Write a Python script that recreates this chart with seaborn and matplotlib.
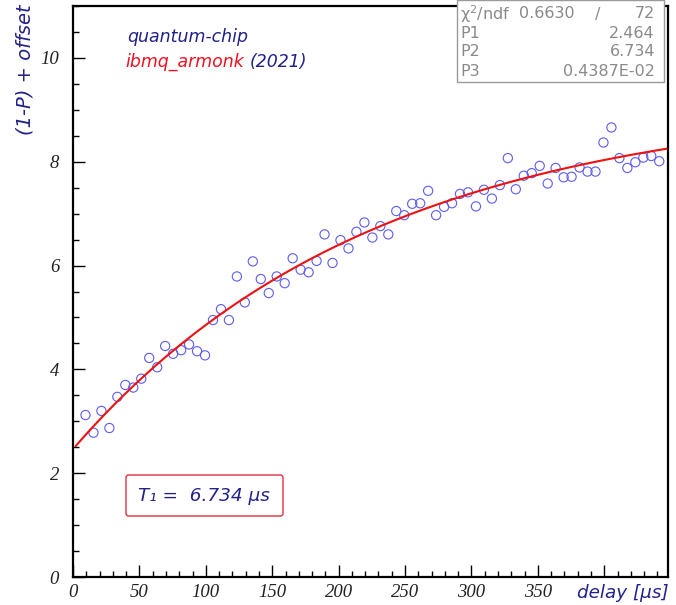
import numpy as np
import pandas as pd
import matplotlib
matplotlib.use("Agg")
import matplotlib.pyplot as plt
from matplotlib.ticker import MultipleLocator
from matplotlib.patches import FancyBboxPatch
import seaborn as sns

# ---- data ----
delay = [9.4, 15.4, 21.4, 27.4, 33.4, 39.4, 45.4, 51.4, 57.4, 63.4,
         69.4, 75.4, 81.4, 87.4, 93.4, 99.4, 105.4, 111.4, 117.4, 123.4,
         129.4, 135.4, 141.4, 147.4, 153.4, 159.4, 165.4, 171.4, 177.4, 183.4,
         189.4, 195.4, 201.4, 207.4, 213.4, 219.4, 225.4, 231.4, 237.4, 243.4,
         249.4, 255.4, 261.4, 267.4, 273.4, 279.4, 285.4, 291.4, 297.4, 303.4,
         309.4, 315.4, 321.4, 327.4, 333.4, 339.4, 345.4, 351.4, 357.4, 363.4,
         369.4, 375.4, 381.4, 387.4, 393.4, 399.4, 405.4, 411.4, 417.4, 423.4,
         429.4, 435.4, 441.4]
signal = [3.12, 2.78, 3.20, 2.87, 3.47, 3.70, 3.65, 3.82, 4.22, 4.04,
          4.45, 4.30, 4.37, 4.48, 4.35, 4.27, 4.95, 5.16, 4.95, 5.79,
          5.29, 6.08, 5.74, 5.47, 5.79, 5.66, 6.14, 5.92, 5.87, 6.09,
          6.60, 6.05, 6.49, 6.33, 6.65, 6.83, 6.54, 6.76, 6.60, 7.05,
          6.97, 7.19, 7.20, 7.44, 6.97, 7.13, 7.20, 7.38, 7.41, 7.14,
          7.46, 7.29, 7.55, 8.07, 7.47, 7.73, 7.78, 7.92, 7.58, 7.88,
          7.70, 7.71, 7.89, 7.81, 7.81, 8.37, 8.66, 8.07, 7.88, 7.99,
          8.08, 8.11, 8.01]

# fit parameters shown in the stats box
chi2 = 0.6630
ndf = 72
P1 = 2.464
P2 = 6.734
P3 = 0.4387e-02
fit_range = [2.0, 447.0]

xticks = [0, 50, 100, 150, 200, 250, 300, 350, 400]
xticklabels = ["0", "50", "100", "150", "200", "250", "300", "350", ""]
yticks = [0, 2, 4, 6, 8, 10]

# ---- styling ----
sns.set_theme(style="white")
plt.rcParams["font.family"] = ["DejaVu Sans"]

navy = "#22228a"
fig = plt.figure(figsize=(6.76, 6.05), dpi=100)
ax = fig.add_axes([73 / 676, 28 / 605, 595 / 676, 571 / 605])

df = pd.DataFrame({"delay": delay, "signal": signal})
sns.scatterplot(data=df, x="delay", y="signal", ax=ax, marker="o", s=44,
                facecolor="none", edgecolor="#5c5cf0", linewidth=0.8,
                legend=False, zorder=3)

xf = np.linspace(fit_range[0], fit_range[1], 400)
yf = P1 + P2 * (1 - np.exp(-P3 * xf))
sns.lineplot(x=xf, y=yf, ax=ax, color="#ee1111", linewidth=1.5, zorder=4)

ax.set_xlim(0, 448)
ax.set_ylim(0, 11)
ax.set_xticks(xticks)
ax.set_xticklabels(xticklabels)
ax.set_yticks(yticks)
ax.xaxis.set_minor_locator(MultipleLocator(10))
ax.yaxis.set_minor_locator(MultipleLocator(0.5))
ax.tick_params(axis="both", which="major", direction="in", length=8.5,
               width=1.0, color="black", bottom=True, left=True,
               top=False, right=False)
ax.tick_params(axis="both", which="minor", direction="in", length=4.5,
               width=1.0, color="black", bottom=True, left=True,
               top=False, right=False)
ax.tick_params(axis="x", pad=5)
ax.tick_params(axis="y", pad=10)
for lab in ax.get_xticklabels() + ax.get_yticklabels():
    lab.set_fontfamily("Liberation Serif")
    lab.set_fontstyle("italic")
    lab.set_fontsize(13.5)
    lab.set_color("#222222")
for sp in ax.spines.values():
    sp.set_visible(True)
    sp.set_color("black")
    sp.set_linewidth(1.6)

ax.set_xlabel("")
ax.set_ylabel("")
fig.text(669 / 676, 1 - 593 / 605, "delay [μs]", ha="right", va="center",
         fontsize=13.2, style="italic", color=navy)
fig.text(25 / 676, 1 - 4 / 605, "(1-P) + offset", ha="center", va="top",
         rotation=90, fontsize=14, style="italic", color=navy)

# titles
fig.text(127 / 676, 1 - 37 / 605, "quantum-chip", ha="left", va="center",
         fontsize=12.5, style="italic", color=navy)
t1 = fig.text(125 / 676, 1 - 62 / 605, "ibmq_armonk", ha="left", va="center",
              fontsize=12.5, style="italic", color="#ee1122")
fig.canvas.draw()
bb = t1.get_window_extent()
fig.text(bb.x1 / 676 + 6 / 676, 1 - 62 / 605, "(2021)", ha="left",
         va="center", fontsize=12.5, style="italic", color=navy)

# stats box
box = plt.Rectangle((457 / 676, 1 - 82 / 605), (664 - 457) / 676, 82 / 605,
                    transform=fig.transFigure, facecolor="white",
                    edgecolor="#9a9a9a", linewidth=1.0, zorder=5)
fig.patches.append(box)
gray = "#8a8a8a"
sfs = 11.5
rows_y = [14, 33, 52, 71]
fig.text(460 / 676, 1 - rows_y[0] / 605, "χ$^2$/ndf", ha="left", va="center",
         fontsize=sfs, color=gray, zorder=6)
fig.text(575 / 676, 1 - rows_y[0] / 605, f"{chi2:.4f}", ha="right",
         va="center", fontsize=sfs, color=gray, zorder=6)
fig.text(598 / 676, 1 - rows_y[0] / 605, "/", ha="center", va="center",
         fontsize=sfs, color=gray, zorder=6)
fig.text(655 / 676, 1 - rows_y[0] / 605, f"{ndf}", ha="right", va="center",
         fontsize=sfs, color=gray, zorder=6)
for name, val, y in [("P1", f"{P1:.3f}", rows_y[1]),
                     ("P2", f"{P2:.3f}", rows_y[2]),
                     ("P3", "0.4387E-02", rows_y[3])]:
    fig.text(460 / 676, 1 - y / 605, name, ha="left", va="center",
             fontsize=sfs, color=gray, zorder=6)
    fig.text(655 / 676, 1 - y / 605, val, ha="right", va="center",
             fontsize=sfs, color=gray, zorder=6)

# T1 box
tb = FancyBboxPatch((126 / 676, 1 - 516 / 605), (283 - 126) / 676,
                    (516 - 475) / 605, boxstyle="round,pad=0,rounding_size=0.004",
                    transform=fig.transFigure, facecolor="white",
                    edgecolor="#e0303f", linewidth=1.0, zorder=5)
fig.patches.append(tb)
fig.text(204 / 676, 1 - 496 / 605, f"T₁ =  {P2:.3f} μs", ha="center",
         va="center", fontsize=13.3, style="italic", color=navy, zorder=6)

fig.savefig("out.png", dpi=100)
